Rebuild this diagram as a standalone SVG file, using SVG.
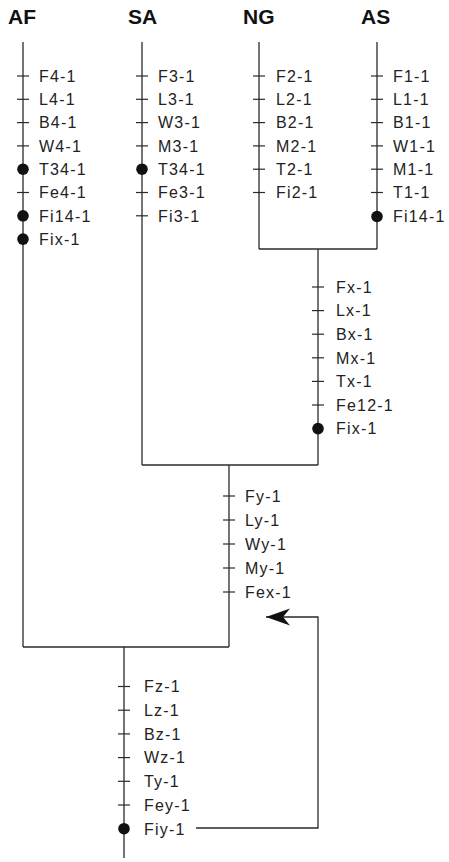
<svg xmlns="http://www.w3.org/2000/svg" width="449" height="862" viewBox="0 0 449 862">
<defs>
<style>
.ln{stroke:#2a2a2a;stroke-width:1.3;fill:none}
.tk{stroke:#2a2a2a;stroke-width:1.2}
.dot{fill:#111}
.lbl{font-family:"Liberation Sans",Arial,sans-serif;font-size:16px;letter-spacing:1.2px;fill:#222}
.hdr{font-family:"Liberation Sans",Arial,sans-serif;font-size:21px;font-weight:bold;fill:#111}
</style>
<marker id="arr" markerUnits="userSpaceOnUse" viewBox="-25 -9 26 18" refX="0" refY="0" markerWidth="26" markerHeight="18" orient="auto">
<path d="M0,0 L-24,-8.5 L-17,0 L-24,8.5 Z" fill="#111"/>
</marker>
</defs>
<rect width="449" height="862" fill="#fff"/>

<g id="connectors">
<line class="ln" x1="23" y1="42" x2="23" y2="647"/>
<line class="ln" x1="142" y1="42" x2="142" y2="465"/>
<line class="ln" x1="259" y1="42" x2="259" y2="249"/>
<line class="ln" x1="377" y1="42" x2="377" y2="249"/>
<line class="ln" x1="259" y1="249" x2="377" y2="249"/>
<line class="ln" x1="318" y1="249" x2="318" y2="465"/>
<line class="ln" x1="142" y1="465" x2="318" y2="465"/>
<line class="ln" x1="229" y1="465" x2="229" y2="647"/>
<line class="ln" x1="23" y1="647" x2="229" y2="647"/>
<line class="ln" x1="124" y1="647" x2="124" y2="858"/>
<path class="ln" d="M196,828 H318 V617 H266" marker-end="url(#arr)"/>
</g>

<g id="AF">
<text class="hdr" x="8" y="24">AF</text>
<line class="tk" x1="17" y1="76" x2="29" y2="76"/>
<line class="tk" x1="17" y1="99.3" x2="29" y2="99.3"/>
<line class="tk" x1="17" y1="122.6" x2="29" y2="122.6"/>
<line class="tk" x1="17" y1="145.9" x2="29" y2="145.9"/>
<circle class="dot" cx="23" cy="169.2" r="5.8"/>
<line class="tk" x1="17" y1="192.5" x2="29" y2="192.5"/>
<circle class="dot" cx="23" cy="215.8" r="5.8"/>
<circle class="dot" cx="23" cy="239.1" r="5.8"/>
<text class="lbl" x="39" y="81.8">F4-1</text>
<text class="lbl" x="39" y="105.1">L4-1</text>
<text class="lbl" x="39" y="128.4">B4-1</text>
<text class="lbl" x="39" y="151.7">W4-1</text>
<text class="lbl" x="39" y="175">T34-1</text>
<text class="lbl" x="39" y="198.3">Fe4-1</text>
<text class="lbl" x="39" y="221.6">Fi14-1</text>
<text class="lbl" x="39" y="244.9">Fix-1</text>
</g>

<g id="SA">
<text class="hdr" x="128" y="24">SA</text>
<line class="tk" x1="136" y1="76" x2="148" y2="76"/>
<line class="tk" x1="136" y1="99.3" x2="148" y2="99.3"/>
<line class="tk" x1="136" y1="122.6" x2="148" y2="122.6"/>
<line class="tk" x1="136" y1="145.9" x2="148" y2="145.9"/>
<circle class="dot" cx="142" cy="169.2" r="5.8"/>
<line class="tk" x1="136" y1="192.5" x2="148" y2="192.5"/>
<line class="tk" x1="136" y1="215.8" x2="148" y2="215.8"/>
<text class="lbl" x="158" y="81.8">F3-1</text>
<text class="lbl" x="158" y="105.1">L3-1</text>
<text class="lbl" x="158" y="128.4">W3-1</text>
<text class="lbl" x="158" y="151.7">M3-1</text>
<text class="lbl" x="158" y="175">T34-1</text>
<text class="lbl" x="158" y="198.3">Fe3-1</text>
<text class="lbl" x="158" y="221.6">Fi3-1</text>
</g>

<g id="NG">
<text class="hdr" x="243" y="24">NG</text>
<line class="tk" x1="253" y1="76" x2="265" y2="76"/>
<line class="tk" x1="253" y1="99.3" x2="265" y2="99.3"/>
<line class="tk" x1="253" y1="122.6" x2="265" y2="122.6"/>
<line class="tk" x1="253" y1="145.9" x2="265" y2="145.9"/>
<line class="tk" x1="253" y1="169.2" x2="265" y2="169.2"/>
<line class="tk" x1="253" y1="192.5" x2="265" y2="192.5"/>
<text class="lbl" x="276" y="81.8">F2-1</text>
<text class="lbl" x="276" y="105.1">L2-1</text>
<text class="lbl" x="276" y="128.4">B2-1</text>
<text class="lbl" x="276" y="151.7">M2-1</text>
<text class="lbl" x="276" y="175">T2-1</text>
<text class="lbl" x="276" y="198.3">Fi2-1</text>
</g>

<g id="AS">
<text class="hdr" x="361" y="24">AS</text>
<line class="tk" x1="371" y1="76" x2="383" y2="76"/>
<line class="tk" x1="371" y1="99.3" x2="383" y2="99.3"/>
<line class="tk" x1="371" y1="122.6" x2="383" y2="122.6"/>
<line class="tk" x1="371" y1="145.9" x2="383" y2="145.9"/>
<line class="tk" x1="371" y1="169.2" x2="383" y2="169.2"/>
<line class="tk" x1="371" y1="192.5" x2="383" y2="192.5"/>
<circle class="dot" cx="377" cy="216.5" r="5.8"/>
<text class="lbl" x="393" y="81.8">F1-1</text>
<text class="lbl" x="393" y="105.1">L1-1</text>
<text class="lbl" x="393" y="128.4">B1-1</text>
<text class="lbl" x="393" y="151.7">W1-1</text>
<text class="lbl" x="393" y="175">M1-1</text>
<text class="lbl" x="393" y="198.3">T1-1</text>
<text class="lbl" x="393" y="222.3">Fi14-1</text>
</g>

<g id="node-x">
<line class="tk" x1="312" y1="287" x2="324" y2="287"/>
<line class="tk" x1="312" y1="310.6" x2="324" y2="310.6"/>
<line class="tk" x1="312" y1="334.2" x2="324" y2="334.2"/>
<line class="tk" x1="312" y1="357.8" x2="324" y2="357.8"/>
<line class="tk" x1="312" y1="381.4" x2="324" y2="381.4"/>
<line class="tk" x1="312" y1="405" x2="324" y2="405"/>
<circle class="dot" cx="318" cy="428.6" r="5.8"/>
<text class="lbl" x="336" y="292.8">Fx-1</text>
<text class="lbl" x="336" y="316.4">Lx-1</text>
<text class="lbl" x="336" y="340">Bx-1</text>
<text class="lbl" x="336" y="363.6">Mx-1</text>
<text class="lbl" x="336" y="387.2">Tx-1</text>
<text class="lbl" x="336" y="410.8">Fe12-1</text>
<text class="lbl" x="336" y="434.4">Fix-1</text>
</g>

<g id="node-y">
<line class="tk" x1="223" y1="496" x2="235" y2="496"/>
<line class="tk" x1="223" y1="520" x2="235" y2="520"/>
<line class="tk" x1="223" y1="544" x2="235" y2="544"/>
<line class="tk" x1="223" y1="568" x2="235" y2="568"/>
<line class="tk" x1="223" y1="592" x2="235" y2="592"/>
<text class="lbl" x="245" y="501.8">Fy-1</text>
<text class="lbl" x="245" y="525.8">Ly-1</text>
<text class="lbl" x="245" y="549.8">Wy-1</text>
<text class="lbl" x="245" y="573.8">My-1</text>
<text class="lbl" x="245" y="597.8">Fex-1</text>
</g>

<g id="node-z">
<line class="tk" x1="118" y1="686.5" x2="130" y2="686.5"/>
<line class="tk" x1="118" y1="710.2" x2="130" y2="710.2"/>
<line class="tk" x1="118" y1="733.9" x2="130" y2="733.9"/>
<line class="tk" x1="118" y1="757.6" x2="130" y2="757.6"/>
<line class="tk" x1="118" y1="781.3" x2="130" y2="781.3"/>
<line class="tk" x1="118" y1="805" x2="130" y2="805"/>
<circle class="dot" cx="124" cy="828.7" r="5.8"/>
<text class="lbl" x="144" y="692.3">Fz-1</text>
<text class="lbl" x="144" y="716">Lz-1</text>
<text class="lbl" x="144" y="739.7">Bz-1</text>
<text class="lbl" x="144" y="763.4">Wz-1</text>
<text class="lbl" x="144" y="787.1">Ty-1</text>
<text class="lbl" x="144" y="810.8">Fey-1</text>
<text class="lbl" x="144" y="834.5">Fiy-1</text>
</g>
</svg>
